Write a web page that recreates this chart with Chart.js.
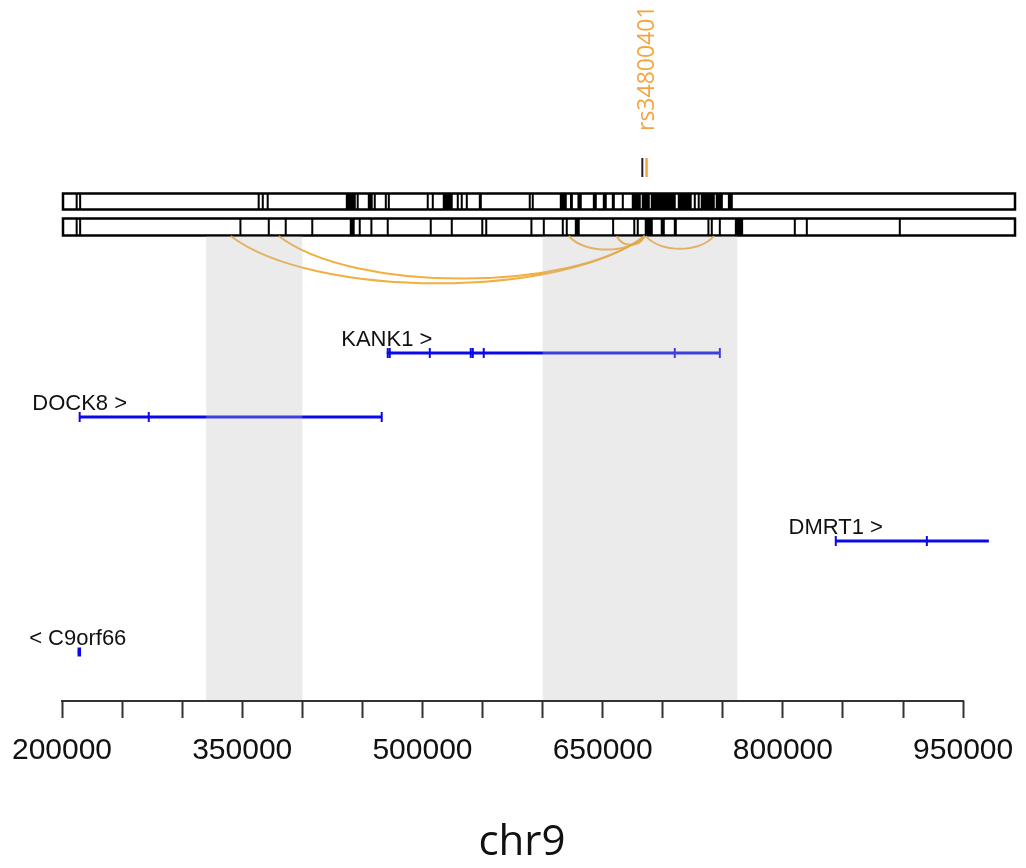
<!DOCTYPE html>
<html>
<head>
<meta charset="utf-8">
<script src="https://cdn.jsdelivr.net/npm/chart.js@4.4.1/dist/chart.umd.min.js"></script>
<style>
html, body { margin: 0; padding: 0; background: #fff; }
canvas { display: block; }
</style>
</head>
<body>
<canvas id="chart" width="1026" height="868"></canvas>
<script>
// x range (bp) and axis ticks
const xMin = 200000, xMax = 994000;
const tickValues = [200000, 250000, 300000, 350000, 400000, 450000, 500000, 550000,
  600000, 650000, 700000, 750000, 800000, 850000, 900000, 950000];
const tickLabels = [200000, 350000, 500000, 650000, 800000, 950000];
const axisTitle = 'chr9';

// genes
const geneNames = ['KANK1', 'DOCK8', 'DMRT1', 'C9orf66'];
const geneStrand = ['+', '+', '+', '-'];
const geneStart = [470300, 214700, 844000, 213100];
const geneEnd = [747500, 466100, 971400, 215600];
const geneExons = [
  [471100, 472800, 506100, 540200, 541900, 551000, 710000, 747500],
  [214700, 272200, 466100],
  [844000, 919800],
  [214400]
];

// block boundaries in the two upper tracks (single pos or [from, to])
const blocksTop = [212200, 215100, 363700, 367100, 371200, [436200, 444500], 446100,
  [454500, 458600], 460300, 469500, 472000, 504400, 508600, [516900, 525200], 529400,
  532700, 536900, [546900, 549400], 589300, 591800, [614300, 620100], [622800, 625200],
  [629000, 632600], [641800, 645100], [650100, 653400], [657600, 660100], [665900, 667600],
  [674200, 681700], [682500, 689200], [690000, 710800], [712500, 724100], [725800, 727500],
  [729100, 730000], [731600, 743300], [744100, 750000], [754200, 758300]];
const blocksBottom = [212200, 215100, 348500, 372100, 386200, 408300, [439500, 443600],
  447800, 457500, 471100, 506900, 524400, 549800, 553100, 590700, 601000, 616800, 620100,
  [626800, 630900], 658700, 676300, 679200, [685000, 691700], [698300, 701700],
  [709200, 711700], 738000, 740800, 747500, [760000, 766900], 809900, 819900, 897300];

// snp and links
const snpId = 'rs34800401';
const snpPos = 686300;
const otherVariantPos = 683000;
const arcFrom = [340400, 380400, 621800, 661700, 686000];
const arcTo = [685000, 685000, 685000, 685000, 742500];

// highlighted regions
const regionFrom = [320000, 600000, 720000];
const regionTo = [400000, 720000, 762000];

// vertical layout (y units, top = 0)
const layout = {
  snpLabelBottom: 131, snpMarkTop: 158, snpMarkBottom: 177,
  barTop: [193.5, 209.5], barBottom: [218.5, 235.5], arcBase: 236,
  geneRow: [353, 417, 541, 652]
};

const blue = '#0a0ae8';
const orange = '#f6a340';

const datasets = [];
geneNames.forEach((name, i) => {
  datasets.push({
    type: 'line',
    data: [{ x: geneStart[i], y: layout.geneRow[i] }, { x: geneEnd[i], y: layout.geneRow[i] }],
    borderColor: blue, borderWidth: 3, pointRadius: 0, borderCapStyle: 'butt'
  });
  datasets.push({
    type: 'scatter',
    data: geneExons[i].map(v => ({ x: v, y: layout.geneRow[i] })),
    pointStyle: 'line', pointRotation: 90,
    pointRadius: name === 'C9orf66' ? 4.5 : 5,
    pointBorderWidth: name === 'C9orf66' ? 3.5 : 2,
    pointBorderColor: blue, borderColor: blue, showLine: false
  });
});

const trackPlugin = {
  id: 'tracks',
  beforeDatasetsDraw(chart) {
    const ctx = chart.ctx, xs = chart.scales.x, ys = chart.scales.y;
    const px = v => xs.getPixelForValue(v);
    const py = v => ys.getPixelForValue(v);
    ctx.save();
    [[blocksTop, layout.barTop], [blocksBottom, layout.barBottom]].forEach(([blocks, row]) => {
      const top = py(row[0]), bot = py(row[1]);
      const left = px(xMin) + 1, right = px(xMax) - 1;
      ctx.fillStyle = '#fff';
      ctx.fillRect(left, top, right - left, bot - top);
      ctx.fillStyle = '#000';
      blocks.forEach(b => {
        if (Array.isArray(b)) {
          ctx.fillRect(px(b[0]), top, Math.max(2, px(b[1]) - px(b[0])), bot - top);
        } else {
          ctx.fillRect(px(b) - 1, top, 2, bot - top);
        }
      });
      ctx.lineWidth = 2.5;
      ctx.strokeStyle = '#000';
      ctx.strokeRect(left, top, right - left, bot - top);
    });
    // links
    ctx.strokeStyle = 'rgba(240,160,30,0.85)';
    ctx.lineWidth = 2;
    const base = py(layout.arcBase);
    arcFrom.forEach((a, i) => {
      const x1 = px(a), x2 = px(arcTo[i]);
      const w = x2 - x1;
      const depth = 6 + (arcTo[i] - a) * 0.00012;
      const c = base + depth * 4 / 3;
      ctx.beginPath();
      ctx.moveTo(x1, base);
      ctx.bezierCurveTo(x1 + w * 0.2, c, x2 - w * 0.2, c, x2, base);
      ctx.stroke();
    });
    ctx.restore();
  },
  afterDatasetsDraw(chart) {
    const ctx = chart.ctx, xs = chart.scales.x, ys = chart.scales.y;
    const top = ys.getPixelForValue(layout.arcBase);
    ctx.save();
    ctx.fillStyle = 'rgba(190,190,190,0.3)';
    regionFrom.forEach((a, i) => {
      const x1 = xs.getPixelForValue(a), x2 = xs.getPixelForValue(regionTo[i]);
      ctx.fillRect(x1, top, x2 - x1, chart.chartArea.bottom - top);
    });
    ctx.restore();
  },
  afterDraw(chart) {
    const ctx = chart.ctx, xs = chart.scales.x, ys = chart.scales.y;
    const px = v => xs.getPixelForValue(v);
    const py = v => ys.getPixelForValue(v);
    ctx.save();
    // axis line between first and last tick
    ctx.strokeStyle = '#333';
    ctx.lineWidth = 2;
    ctx.beginPath();
    ctx.moveTo(px(tickValues[0]) - 1, chart.chartArea.bottom);
    ctx.lineTo(px(tickValues[tickValues.length - 1]) + 1, chart.chartArea.bottom);
    ctx.stroke();
    // axis title
    ctx.fillStyle = '#111';
    ctx.font = '42px "Open Sans", sans-serif';
    ctx.textAlign = 'center';
    ctx.textBaseline = 'alphabetic';
    ctx.fillText(axisTitle, chart.width / 2 + 9, 855);
    // gene labels
    ctx.font = '22px "Liberation Sans", Arial, sans-serif';
    geneNames.forEach((name, i) => {
      const label = geneStrand[i] === '+' ? name + ' >' : '< ' + name;
      ctx.fillText(label, px(geneStart[i]), py(layout.geneRow[i]) - 7);
    });
    // snp marks and label
    const mt = py(layout.snpMarkTop), mb = py(layout.snpMarkBottom);
    ctx.fillStyle = '#222';
    ctx.fillRect(px(otherVariantPos) - 1, mt, 2, mb - mt);
    ctx.fillStyle = orange;
    ctx.fillRect(px(snpPos) - 1, mt, 2.5, mb - mt);
    ctx.translate(px(snpPos) + 1, py(layout.snpLabelBottom));
    ctx.rotate(-Math.PI / 2);
    ctx.font = '23px "Open Sans", sans-serif';
    ctx.textAlign = 'left';
    ctx.textBaseline = 'middle';
    ctx.fillText(snpId, 0, 0);
    ctx.restore();
  }
};

new Chart(document.getElementById('chart'), {
  type: 'line',
  data: { datasets },
  options: {
    responsive: false,
    animation: false,
    devicePixelRatio: 1,
    layout: { autoPadding: false, padding: { left: 62, right: 10, top: 0, bottom: 0 } },
    plugins: { legend: { display: false }, tooltip: { enabled: false } },
    scales: {
      x: {
        type: 'linear', min: xMin, max: xMax,
        border: { display: false },
        grid: { drawOnChartArea: false, drawTicks: true, tickLength: 17, tickWidth: 2, tickColor: '#333' },
        ticks: {
          autoSkip: false, maxRotation: 0, padding: 15, color: '#111',
          font: { family: 'Liberation Sans', size: 30 },
          callback: v => tickLabels.includes(v) ? String(v) : ''
        },
        afterBuildTicks: s => { s.ticks = tickValues.map(v => ({ value: v })); },
        afterFit: s => { s.height = 167; s.paddingLeft = 0; s.paddingRight = 0; }
      },
      y: { type: 'linear', display: false, min: 0, max: 701, reverse: true }
    }
  },
  plugins: [trackPlugin]
});
</script>
</body>
</html>
